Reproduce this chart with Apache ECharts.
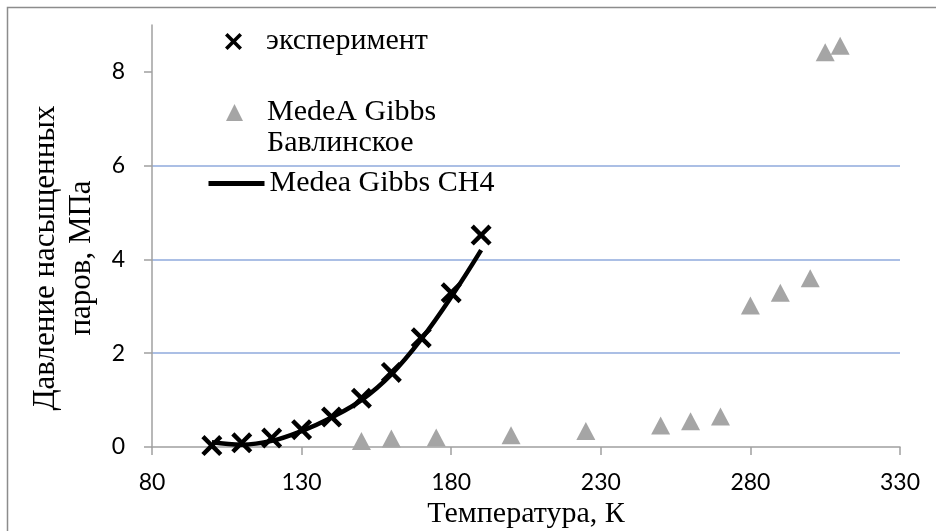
<!DOCTYPE html>
<html>
<head>
<meta charset="utf-8">
<script src="https://cdn.jsdelivr.net/npm/echarts@6/dist/echarts.min.js"></script>
<style>
  html, body { margin: 0; padding: 0; background: #ffffff; }
  #chart { width: 936px; height: 531px; }
</style>
</head>
<body>
<div id="chart"></div>
<script>
// Saturated vapour pressure vs temperature
const xTicks = [80, 130, 180, 230, 280, 330];
const yTicks = [0, 2, 4, 6, 8];

// experiment (CH4)
const expT = [100, 110, 120, 130, 140, 150, 160, 170, 180, 190];
const expP = [0.03, 0.09, 0.19, 0.37, 0.64, 1.04, 1.59, 2.33, 3.29, 4.52];

// MedeA Gibbs, Бавлинское
const bavT = [150, 160, 175, 200, 225, 250, 260, 270, 280, 290, 300, 305, 310];
const bavP = [0.13, 0.18, 0.20, 0.25, 0.34, 0.46, 0.55, 0.65, 3.02, 3.29, 3.60, 8.42, 8.56];

// Medea Gibbs CH4 (calculated curve)
const ch4T = [100, 110, 120, 130, 140, 150, 160, 170, 180, 190];
const ch4P = [0.10, 0.05, 0.13, 0.34, 0.63, 1.00, 1.55, 2.30, 3.20, 4.20];

const pair = (xs, ys) => xs.map((x, i) => [x, ys[i]]);

const serif = '"Liberation Serif", "Times New Roman", serif';
const sans = 'Lato, "Open Sans", sans-serif';
const crossPath = 'path://M3,0 L10,7 L17,0 L20,3 L13,10 L20,17 L17,20 L10,13 L3,20 L0,17 L7,10 L0,3 Z';

const chart = echarts.init(document.getElementById('chart'), null, { renderer: 'canvas' });

const legendText = { fontFamily: serif, fontSize: 30, color: '#000', lineHeight: 31 };

chart.setOption({
  animation: false,
  backgroundColor: '#ffffff',
  grid: { left: 152, right: 36, top: 25, bottom: 84, outerBoundsMode: 'none', containLabel: false },
  xAxis: {
    type: 'value',
    min: 80, max: 330, interval: 50,
    name: 'Температура, К',
    nameLocation: 'middle',
    nameGap: 50,
    nameTextStyle: { fontFamily: serif, fontSize: 30, color: '#000' },
    axisLine: { show: true, onZero: false, lineStyle: { color: '#A0A0A0', width: 1.5 } },
    axisTick: { show: true, length: 8, lineStyle: { color: '#A0A0A0', width: 1.5 } },
    axisLabel: {
      customValues: xTicks,
      fontFamily: sans, fontSize: 23, color: '#000', margin: 24
    },
    splitLine: { show: false }
  },
  yAxis: {
    type: 'value',
    min: 0, max: 9, interval: 2,
    axisLine: { show: true, lineStyle: { color: '#A0A0A0', width: 1.5 } },
    axisTick: { show: true, length: 8, customValues: yTicks, lineStyle: { color: '#A0A0A0', width: 1.5 } },
    axisLabel: {
      customValues: yTicks,
      fontFamily: sans, fontSize: 23, color: '#000', margin: 27
    },
    splitLine: { show: true, showMinLine: false, showMaxLine: false, lineStyle: { color: '#8FAADC', width: 1.5 } }
  },
  legend: [
    {
      data: [{ name: 'эксперимент', itemStyle: { color: '#000' } }],
      left: 225, top: 26, padding: 0,
      itemWidth: 19, itemHeight: 17,
      textStyle: Object.assign({ padding: [0, 0, 0, 18] }, legendText)
    },
    {
      // blank first line keeps the icon level with "MedeA Gibbs"
      data: ['MedeA Gibbs Бавлинское'],
      left: 226, top: 66, padding: 0,
      itemWidth: 17, itemHeight: 17,
      formatter: name => ' \n' + name.replace(' Бавлинское', '\nБавлинское'),
      textStyle: Object.assign({ padding: [0, 0, 0, 19] }, legendText)
    },
    {
      data: ['Medea Gibbs CH4'],
      left: 206, top: 168, padding: 0,
      itemWidth: 56, itemHeight: 6,
      lineStyle: { width: 5 },
      textStyle: legendText
    }
  ],
  graphic: [
    {
      type: 'rect', silent: true, z: -1,
      shape: { x: 7.5, y: 7.5, width: 1000, height: 1000 },
      style: { fill: null, stroke: '#8C8C8C', lineWidth: 1.5 }
    },
    {
      type: 'text', silent: true,
      x: 64, y: 258, rotation: Math.PI / 2,
      style: {
        text: 'Давление насыщенных\nпаров, МПа',
        font: '31px ' + serif,
        lineHeight: 36,
        fill: '#000',
        align: 'center',
        verticalAlign: 'middle'
      }
    }
  ],
  series: [
    {
      name: 'MedeA Gibbs Бавлинское',
      type: 'scatter',
      symbol: 'triangle',
      symbolSize: [19, 18],
      itemStyle: { color: '#A5A5A5', opacity: 1 },
      data: pair(bavT, bavP),
      z: 2
    },
    {
      name: 'Medea Gibbs CH4',
      type: 'line',
      smooth: 0.4,
      symbol: 'none',
      showSymbol: false,
      lineStyle: { color: '#000', width: 4.5 },
      itemStyle: { color: '#000' },
      data: pair(ch4T, ch4P),
      z: 3
    },
    {
      name: 'эксперимент',
      type: 'scatter',
      symbol: crossPath,
      symbolSize: 21,
      itemStyle: { color: '#000', opacity: 1 },
      data: pair(expT, expP),
      z: 4
    }
  ]
});
</script>
</body>
</html>
